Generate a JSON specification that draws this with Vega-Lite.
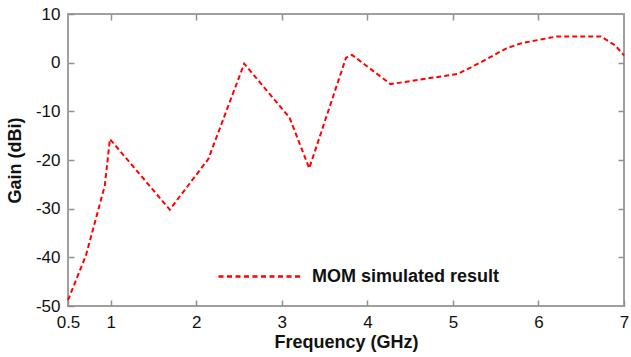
{
  "$schema": "https://vega.github.io/schema/vega-lite/v6.json",
  "width": 556,
  "height": 292,
  "autosize": {"type": "none"},
  "padding": {"left": 68, "top": 14, "right": 7, "bottom": 51},
  "background": "white",
  "config": {
    "font": "Liberation Sans",
    "view": {"stroke": "#a0a0a0", "strokeWidth": 2},
    "axis": {
      "domain": false,
      "grid": false,
      "ticks": true,
      "zindex": 1,
      "tickColor": "#909090",
      "tickWidth": 1.5,
      "tickSize": -6,
      "labelFont": "Liberation Sans",
      "labelFontSize": 17,
      "labelColor": "#111111",
      "labelExpr": "toString(datum.value)",
      "titleFont": "Liberation Sans",
      "titleFontSize": 18,
      "titleFontWeight": "bold",
      "titleColor": "#111111"
    }
  },
  "data": {
    "values": [
      {"f": 0.5, "g": -48.8, "s": "MOM simulated result"},
      {"f": 0.71, "g": -39.6, "s": "MOM simulated result"},
      {"f": 0.93, "g": -25.3, "s": "MOM simulated result"},
      {"f": 0.99, "g": -15.7, "s": "MOM simulated result"},
      {"f": 1.69, "g": -30.2, "s": "MOM simulated result"},
      {"f": 2.14, "g": -19.8, "s": "MOM simulated result"},
      {"f": 2.56, "g": -0.2, "s": "MOM simulated result"},
      {"f": 3.09, "g": -11.3, "s": "MOM simulated result"},
      {"f": 3.32, "g": -21.7, "s": "MOM simulated result"},
      {"f": 3.75, "g": 1.0, "s": "MOM simulated result"},
      {"f": 3.82, "g": 1.6, "s": "MOM simulated result"},
      {"f": 4.27, "g": -4.4, "s": "MOM simulated result"},
      {"f": 5.06, "g": -2.3, "s": "MOM simulated result"},
      {"f": 5.35, "g": 0.3, "s": "MOM simulated result"},
      {"f": 5.62, "g": 2.9, "s": "MOM simulated result"},
      {"f": 5.8, "g": 4.0, "s": "MOM simulated result"},
      {"f": 6.22, "g": 5.4, "s": "MOM simulated result"},
      {"f": 6.73, "g": 5.4, "s": "MOM simulated result"},
      {"f": 6.9, "g": 3.5, "s": "MOM simulated result"},
      {"f": 7.0, "g": 1.5, "s": "MOM simulated result"}
    ]
  },
  "layer": [
    {
      "mark": {"type": "line", "strokeWidth": 2, "strokeDash": [5, 3]},
      "encoding": {
        "x": {
          "field": "f", "type": "quantitative",
          "scale": {"domain": [0.5, 7], "nice": false, "zero": false},
          "axis": {"orient": "bottom", "values": [0.5, 1, 2, 3, 4, 5, 6, 7], "labelPadding": 14, "title": "Frequency (GHz)", "titlePadding": 3, "labelFlush": false}
        },
        "y": {
          "field": "g", "type": "quantitative",
          "scale": {"domain": [-50, 10], "nice": false, "zero": false},
          "axis": {"orient": "left", "values": [-50, -40, -30, -20, -10, 0, 10], "labelPadding": 14, "title": "Gain (dBi)", "titlePadding": 11}
        },
        "color": {
          "field": "s", "type": "nominal",
          "scale": {"range": ["#ff0000"]},
          "legend": {
            "title": null,
            "orient": "none",
            "legendX": 149,
            "legendY": 220,
            "symbolType": "stroke",
            "symbolSize": 6724,
            "symbolStrokeWidth": 2.5,
            "symbolDash": [5, 3.5],
            "labelFontSize": 18,
            "labelFontWeight": "bold",
            "labelColor": "#111111",
            "labelFont": "Liberation Sans",
            "labelOffset": 10,
            "labelLimit": 400
          }
        }
      }
    },
    {
      "mark": {"type": "line", "opacity": 0},
      "encoding": {
        "x": {
          "field": "f", "type": "quantitative",
          "axis": {"orient": "top", "values": [1, 2, 3, 4, 5, 6], "labels": false, "title": null}
        },
        "y": {
          "field": "g", "type": "quantitative",
          "axis": {"orient": "right", "values": [-40, -30, -20, -10, 0], "labels": false, "title": null}
        }
      }
    }
  ],
  "resolve": {"axis": {"x": "independent", "y": "independent"}}
}
